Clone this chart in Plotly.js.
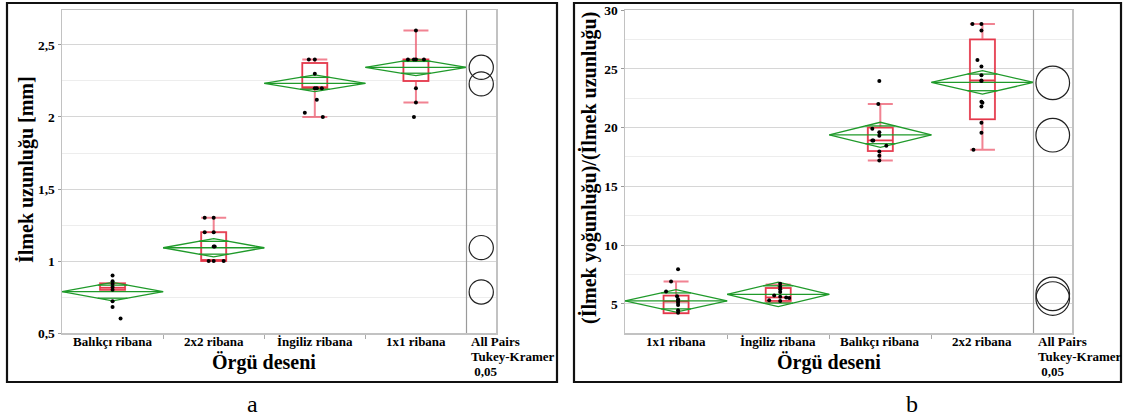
<!DOCTYPE html>
<html><head><meta charset="utf-8">
<script src="https://cdn.plot.ly/plotly-3.0.1.min.js"></script>
<style>html,body{margin:0;padding:0;background:#fff}#chart{width:1124px;height:417px}</style>
</head><body><div id="chart"></div>
<script>
// ================= DATA : panel a =================
const catsA = ['Balıkçı ribana', '2x2 ribana', 'İngiliz ribana', '1x1 ribana'];
const meanA = [0.787, 1.092, 2.234, 2.345];
const ciA   = [0.064, 0.063, 0.058, 0.058];
const q1A   = [0.80, 1.00, 2.20, 2.25];
const medA  = [0.815, 1.00, 2.20, 2.40];
const q3A   = [0.845, 1.20, 2.375, 2.40];
const loA   = [0.80, 1.00, 2.00, 2.10];
const hiA   = [0.845, 1.30, 2.40, 2.60];
const ptsA = [
  [0.90, 0.86, 0.84, 0.82, 0.80, 0.72, 0.68, 0.60],
  [1.3, 1.3, 1.2, 1.2, 1.1, 1.1, 1.0, 1.0, 1.0],
  [2.4, 2.4, 2.3, 2.2, 2.2, 2.2, 2.12, 2.03, 2.0],
  [2.6, 2.4, 2.4, 2.4, 2.4, 2.2, 2.1, 2.0]
];
const circA  = [0.785, 1.093, 2.23, 2.345];
const circRA = 0.084;
const yTickValsA = [0.5, 1, 1.5, 2, 2.5];
const yTickTextA = ['0,5', '1', '1,5', '2', '2,5'];
const yMinorA = [0.75, 1.25, 1.75, 2.25];

// ================= DATA : panel b =================
const catsB = ['1x1 ribana', 'İngiliz ribana', 'Balıkçı ribana', '2x2 ribana'];
const meanB = [5.25, 5.8, 19.38, 23.84];
const ciB   = [0.96, 1.04, 1.07, 1.0];
const q1B   = [4.2, 5.25, 18.0, 20.7];
const medB  = [5.2, 5.55, 18.9, 24.0];
const q3B   = [5.7, 6.35, 20.0, 27.5];
const loB   = [4.2, 5.15, 17.2, 18.1];
const hiB   = [6.9, 6.65, 22.0, 28.8];
const ptsB = [
  [7.95, 6.9, 6.05, 5.65, 5.4, 5.25, 5.1, 4.9, 4.45, 4.25],
  [6.7, 6.45, 6.25, 6.0, 5.7, 5.6, 5.55, 5.5, 5.3, 5.25],
  [23.96, 22.0, 19.9, 19.6, 19.3, 18.9, 18.9, 18.45, 17.97, 17.6, 17.2],
  [28.8, 28.8, 28.25, 25.75, 25.2, 24.45, 24.0, 23.96, 22.2, 22.1, 21.8, 20.4, 19.55, 18.1]
];
const circB  = [5.45, 5.85, 19.35, 23.8];
const circRB = 1.43;
const yTickValsB = [5, 10, 15, 20, 25, 30];
const yTickTextB = ['5', '10', '15', '20', '25', '30'];
const yMinorB = [7.5, 12.5, 17.5, 22.5, 27.5];

const tukeyLines = ['All Pairs', 'Tukey-Kramer', ' 0,05'];

// ================= LAYOUT / STYLE (not data) =================
const W = 1124, H = 417;
const FONT = 'Liberation Serif';
const B = t => '<b>' + t + '</b>';
const px = x => x / W, py = y => 1 - y / H;
// horizontal jitter of dots, in pixels
const jitA = [
  [0, 0, 0, 0, 0, 0, 0, 8],
  [-9, 0, -9, 0, 0, 1, -5, 0, 10],
  [-6, 0, 0, 0, 2, 7, 2, -10, 8],
  [0, -8, -2, 0, 8, 0, 0, -2]
];
const jitB = [
  [2, -5, -10, 1, 2, 2, 2, 2, 2, 2],
  [2, 2, 2, 2, -4, 2, 8, 11, -9, 2],
  [-1, -2, -8, -1, -1, -8, -7, 6, -1, -1, -1],
  [-10, -1, -1, -5, -1, -1, -1, -1, -1, 0, -1, -1, -1, -9]
];

const panels = [
  { ax: 'x', ay: 'y', cats: catsA, mean: meanA, ci: ciA, q1: q1A, med: medA, q3: q3A, lo: loA, hi: hiA,
    pts: ptsA, jit: jitA, circ: circA, circR: circRA,
    left: 62, sep: 466.5, right: 496, top: 10, bottom: 333, yr: [0.5, 2.743],
    tv: yTickValsA, tt: yTickTextA, minor: yMinorA },
  { ax: 'x2', ay: 'y2', cats: catsB, mean: meanB, ci: ciB, q1: q1B, med: medB, q3: q3B, lo: loB, hi: hiB,
    pts: ptsB, jit: jitB, circ: circB, circR: circRB,
    left: 625, sep: 1033.5, right: 1072, top: 10, bottom: 333, yr: [2.52, 30],
    tv: yTickValsB, tt: yTickTextB, minor: yMinorB }
];

const traces = [], shapes = [], layout = {
  width: W, height: H, margin: { l: 0, r: 0, t: 0, b: 0 },
  paper_bgcolor: '#fff', plot_bgcolor: '#fff', showlegend: false,
  font: { family: FONT, color: '#000' }, annotations: []
};

panels.forEach((p, k) => {
  const unit = (p.sep - p.left) / p.cats.length;           // px per category
  const xr = [-0.5, p.cats.length - 0.5 + (p.right - p.sep) / unit];
  const pxPerY = (p.bottom - p.top) / (p.yr[1] - p.yr[0]);
  const sfx = k === 0 ? '' : '2';
  const idx = p.cats.map((c, i) => i);

  layout['xaxis' + sfx] = {
    domain: [px(p.left), px(p.right)], range: xr, anchor: p.ay,
    showgrid: false, zeroline: false, showline: true, mirror: true,
    linecolor: '#c2c2c2', linewidth: 1.5,
    tickmode: 'array', tickvals: idx, ticktext: p.cats, showticklabels: false, ticks: '',
    minor: { tickmode: 'array', tickvals: idx.slice(1).map(i => i - 0.5), ticks: 'outside', ticklen: 4, tickcolor: '#aaa', showgrid: false },
    fixedrange: true
  };
  layout['yaxis' + sfx] = {
    domain: [py(p.bottom), py(p.top)], range: p.yr, anchor: p.ax,
    showgrid: true, gridcolor: '#d6d6d6', gridwidth: 1, zeroline: false,
    showline: true, mirror: true, linecolor: '#c2c2c2', linewidth: 1.5,
    tickmode: 'array', tickvals: p.tv, ticktext: p.tt.map(B), ticks: 'outside', ticklen: 3, tickcolor: '#999',
    tickfont: { family: FONT, size: 13.5, color: '#000' },
    minor: { tickmode: 'array', tickvals: p.minor, showgrid: true, gridcolor: '#ededed', ticks: '' },
    fixedrange: true
  };

  // category labels (positioned under each category via the x axis)
  p.cats.forEach((c, i) => layout.annotations.push({ xref: p.ax, yref: 'paper', x: i, y: py(341),
    xanchor: 'center', yanchor: 'middle', showarrow: false, text: B(c), font: { family: FONT, size: 13 } }));

  // boxes: whiskers (soft pink, thicker) then box outline
  traces.push({
    type: 'box', xaxis: p.ax, yaxis: p.ay, x: idx,
    q1: p.q1, median: p.med, q3: p.q3, lowerfence: p.lo, upperfence: p.hi,
    width: 25 / unit, whiskerwidth: 1, boxpoints: false,
    fillcolor: 'rgba(255,255,255,0)', line: { color: 'rgba(236,90,110,0.75)', width: 2 },
    hoverinfo: 'skip'
  });
  traces.push({
    type: 'box', xaxis: p.ax, yaxis: p.ay, x: idx,
    q1: p.q1, median: p.med, q3: p.q3, lowerfence: p.q1, upperfence: p.q3,
    width: 25 / unit, whiskerwidth: 0, boxpoints: false,
    fillcolor: 'rgba(255,255,255,0)', line: { color: '#e3384a', width: 1.3 },
    hoverinfo: 'skip'
  });

  // means diamonds
  const dx = [], dy = [];
  const s = 1 / Math.SQRT2;
  p.mean.forEach((m, i) => {
    const h = p.ci[i];
    dx.push(i - 0.5, i, i + 0.5, i, i - 0.5, null); dy.push(m, m + h, m, m - h, m, null);
    dx.push(i - 0.5, i + 0.5, null); dy.push(m, m, null);
    const w = 0.5 * (1 - s);
    dx.push(i - w, i + w, null); dy.push(m + h * s, m + h * s, null);
    dx.push(i - w, i + w, null); dy.push(m - h * s, m - h * s, null);
  });
  traces.push({ type: 'scatter', mode: 'lines', xaxis: p.ax, yaxis: p.ay, x: dx, y: dy,
    line: { color: '#1f9a2a', width: 1.3 }, hoverinfo: 'skip', connectgaps: false });

  // points
  const sx = [], sy = [];
  p.pts.forEach((arr, i) => arr.forEach((v, j) => { sx.push(i + p.jit[i][j] / unit); sy.push(v); }));
  traces.push({ type: 'scatter', mode: 'markers', xaxis: p.ax, yaxis: p.ay, x: sx, y: sy,
    marker: { color: '#000', size: 4 }, hoverinfo: 'skip' });

  // separator + comparison circles
  shapes.push({ type: 'line', xref: p.ax, yref: p.ay + ' domain', x0: p.cats.length - 0.5, x1: p.cats.length - 0.5, y0: 0, y1: 1,
    line: { color: '#9a9a9a', width: 1.2 } });
  const cx = p.cats.length - 0.5 + ((p.right - p.sep) / 2) / unit;
  const rx = p.circR * pxPerY / unit;
  p.circ.forEach(v => shapes.push({ type: 'circle', xref: p.ax, yref: p.ay,
    x0: cx - rx, x1: cx + rx, y0: v - p.circR, y1: v + p.circR, line: { color: '#222', width: 1.2 } }));

  // Tukey labels
  tukeyLines.forEach((t, j) => layout.annotations.push({ xref: 'paper', yref: 'paper', x: px(p.sep + 2), y: py(341 + 15 * j),
    xanchor: 'left', yanchor: 'middle', align: 'left', showarrow: false, text: B(t), font: { family: FONT, size: 13 } }));
  layout.annotations.push({ xref: 'paper', yref: 'paper', x: px((p.left + p.sep) / 2), y: py(362), xanchor: 'center', yanchor: 'middle',
    showarrow: false, text: B('Örgü deseni'), font: { family: FONT, size: 20 } });
});

layout.annotations.push(
  { xref: 'paper', yref: 'paper', x: px(26), y: py(170), textangle: -90, showarrow: false, xanchor: 'center', yanchor: 'middle',
    text: B('İlmek uzunluğu [mm]'), font: { family: FONT, size: 20 } },
  { xref: 'paper', yref: 'paper', x: px(589), y: py(168), textangle: -90, showarrow: false, xanchor: 'center', yanchor: 'middle',
    text: B('(İlmek yoğunluğu)/(İlmek uzunluğu)'), font: { family: FONT, size: 20 } },
  { xref: 'paper', yref: 'paper', x: px(252), y: py(404), showarrow: false, xanchor: 'center', yanchor: 'middle',
    text: 'a', font: { family: FONT, size: 24 } },
  { xref: 'paper', yref: 'paper', x: px(912), y: py(404), showarrow: false, xanchor: 'center', yanchor: 'middle',
    text: 'b', font: { family: FONT, size: 24 } }
);

// outer panel frames
shapes.push(
  { type: 'rect', xref: 'paper', yref: 'paper', x0: px(7), x1: px(557), y0: py(382), y1: py(3), line: { color: '#111', width: 2.2 } },
  { type: 'rect', xref: 'paper', yref: 'paper', x0: px(574), x1: px(1121), y0: py(382), y1: py(3), line: { color: '#111', width: 2.2 } }
);
layout.shapes = shapes;

Plotly.newPlot('chart', traces, layout, { staticPlot: true, displayModeBar: false });
</script></body></html>
